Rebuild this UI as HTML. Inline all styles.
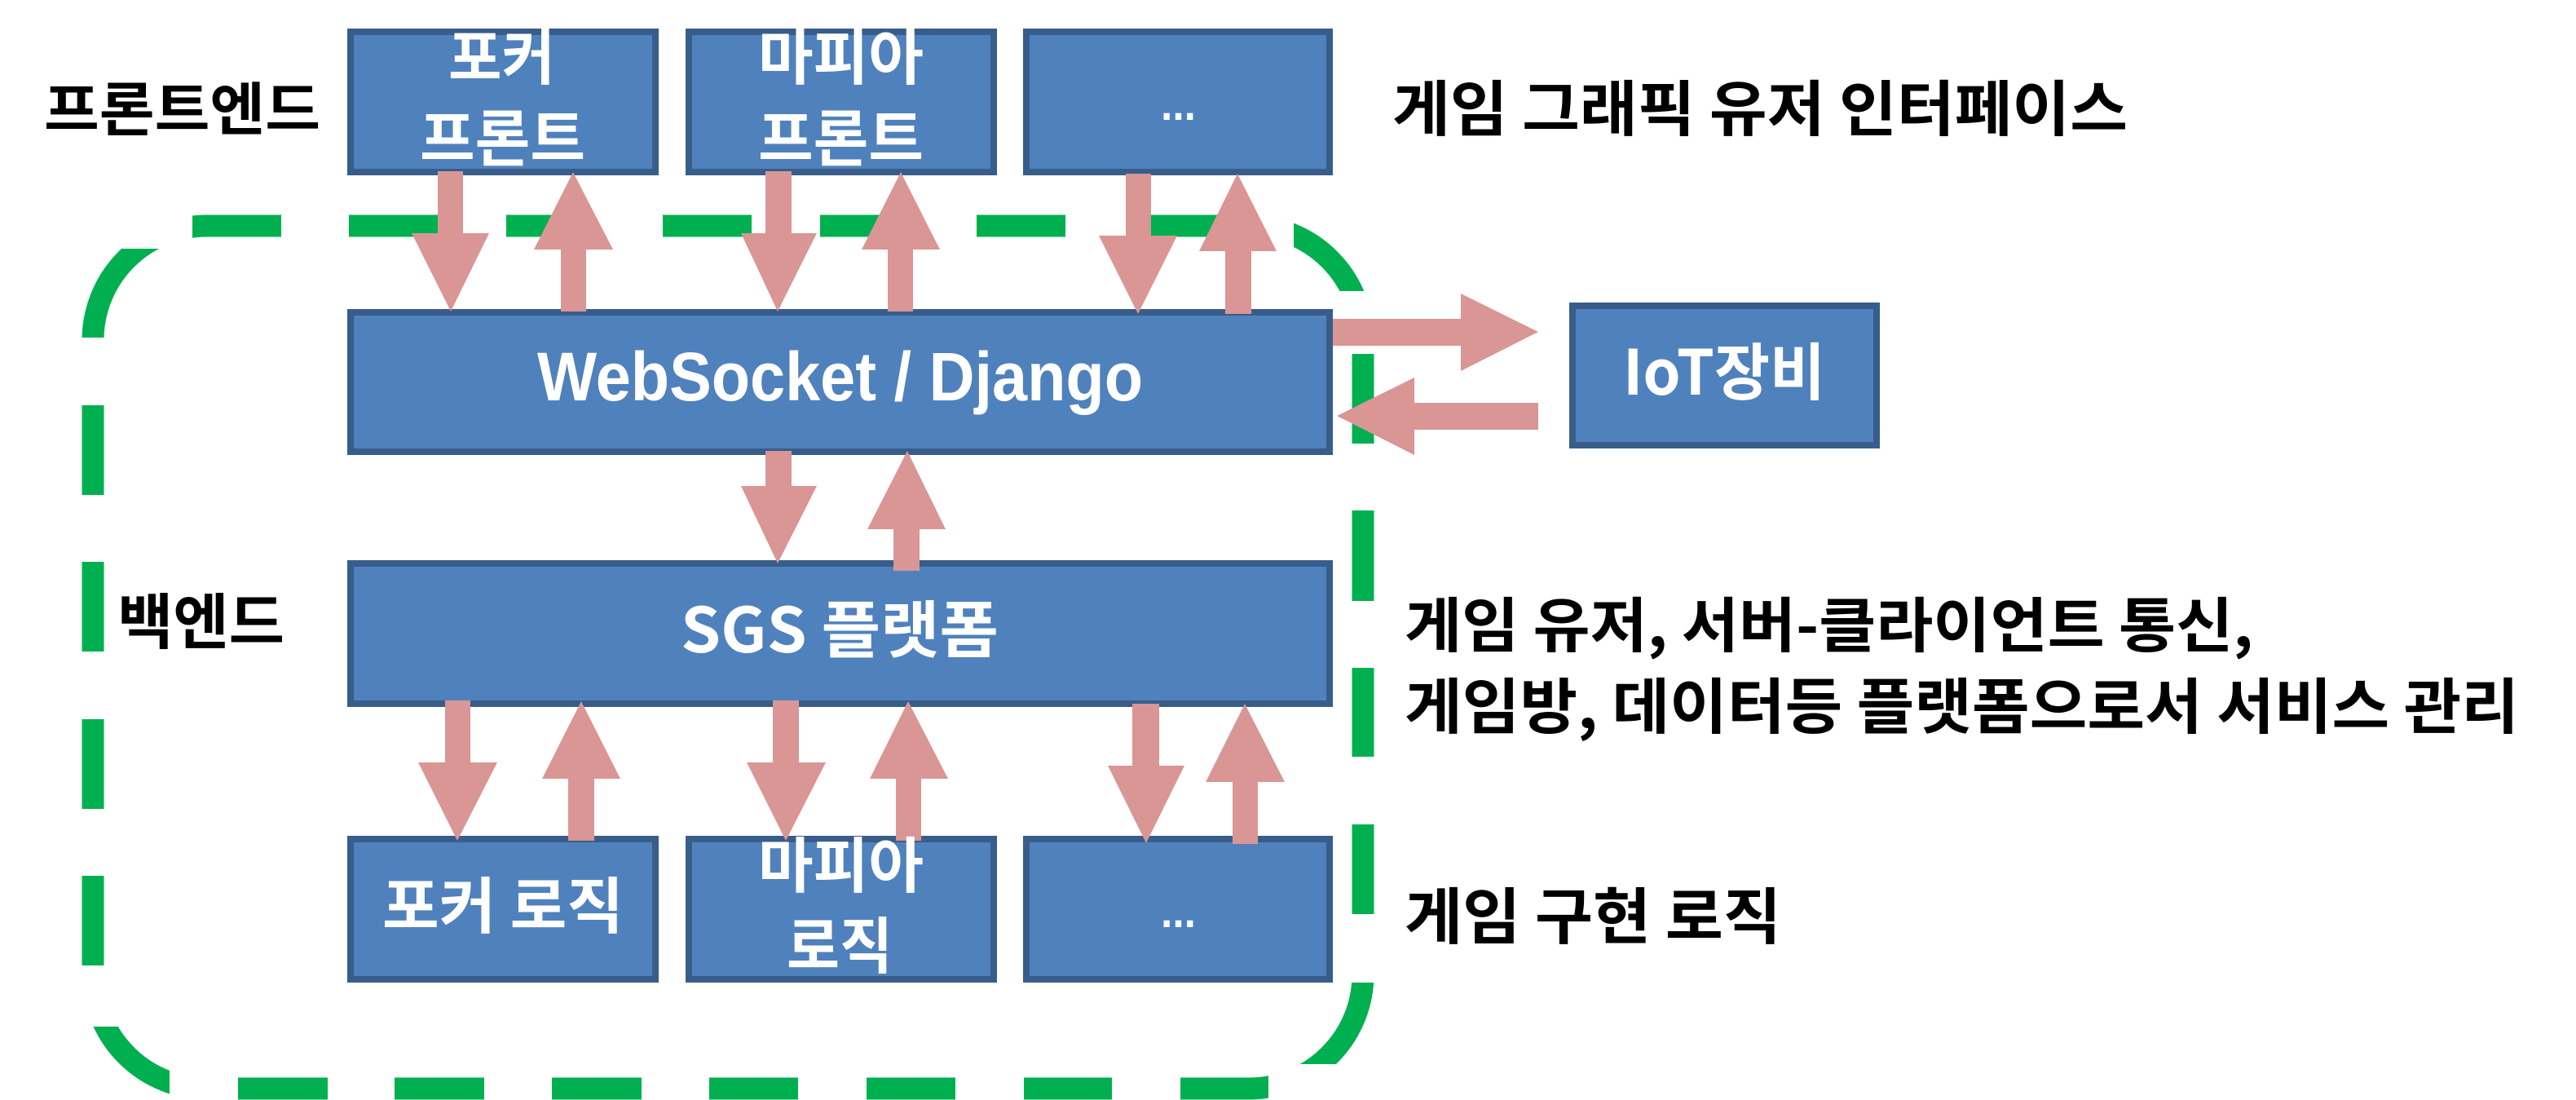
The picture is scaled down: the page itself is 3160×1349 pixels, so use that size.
<!DOCTYPE html>
<html><head><meta charset="utf-8"><style>
html,body{margin:0;padding:0;background:#fff;}
svg{display:block;}
text{font-family:"Liberation Sans","Noto Sans CJK KR",sans-serif;font-weight:bold;}
.k{font-family:"Noto Sans CJK KR","Liberation Sans",sans-serif;font-weight:bold;}
</style></head><body>
<svg width="3160" height="1349" viewBox="0 0 3160 1349" xmlns="http://www.w3.org/2000/svg">
<rect width="3160" height="1349" fill="#fff"/>
<!-- green dashed rounded rect -->
<rect x="114" y="277" width="1558" height="1058" rx="140" ry="140" fill="none" stroke="#00B050" stroke-width="27"/>
<g fill="#fff">
<!-- top gaps -->
<rect x="150" y="250" width="86" height="55"/>
<rect x="345" y="250" width="83" height="55"/>
<rect x="537" y="250" width="84" height="55"/>
<rect x="730" y="250" width="83" height="55"/>
<rect x="922" y="250" width="84" height="55"/>
<rect x="1115" y="250" width="83" height="55"/>
<rect x="1307" y="250" width="84" height="55"/>
<rect x="1497" y="250" width="90" height="55"/>
<!-- left gaps -->
<rect x="85" y="414" width="60" height="83"/>
<rect x="85" y="607" width="60" height="82"/>
<rect x="85" y="799" width="60" height="83"/>
<rect x="85" y="992" width="60" height="82"/>
<rect x="85" y="1184" width="60" height="75"/>
<!-- bottom gaps -->
<rect x="208" y="1305" width="84" height="50"/>
<rect x="402" y="1305" width="82" height="50"/>
<rect x="594" y="1305" width="83" height="50"/>
<rect x="787" y="1305" width="83" height="50"/>
<rect x="979" y="1305" width="84" height="50"/>
<rect x="1172" y="1305" width="84" height="50"/>
<rect x="1364" y="1305" width="84" height="50"/>
<rect x="1556" y="1305" width="85" height="50"/>
<!-- right gaps -->
<rect x="1640" y="357" width="60" height="77"/>
<rect x="1640" y="544" width="60" height="82"/>
<rect x="1640" y="737" width="60" height="82"/>
<rect x="1640" y="928" width="60" height="83"/>
<rect x="1640" y="1121" width="60" height="84"/>
</g>

<!-- boxes -->
<g fill="#4F81BD" stroke="#385D8A" stroke-width="8">
<rect x="430" y="39" width="374" height="172"/>
<rect x="845" y="39" width="374" height="172"/>
<rect x="1259" y="39" width="372" height="172"/>
<rect x="430" y="383" width="1201" height="171"/>
<rect x="430" y="691" width="1201" height="172"/>
<rect x="430" y="1029" width="374" height="172"/>
<rect x="845" y="1029" width="374" height="172"/>
<rect x="1259" y="1029" width="372" height="172"/>
<rect x="1929" y="375" width="373" height="171"/>
</g>

<!-- arrows -->
<g fill="#D99694">
<!-- top row -->
<polygon points="537,210 568,210 568,286 600,286 553,382 505,286 537,286"/>
<polygon points="703,211 752,306 719,306 719,382 688,382 688,306 655,306"/>
<polygon points="939,210 971,210 971,286 1002,286 954,382 909,286 939,286"/>
<polygon points="1105,211 1153,306 1120,306 1120,382 1089,382 1089,306 1057,306"/>
<polygon points="1381,213 1412,213 1412,289 1444,289 1396,385 1348,289 1381,289"/>
<polygon points="1518,213 1566,308 1535,308 1535,385 1503,385 1503,308 1471,308"/>
<!-- middle -->
<polygon points="939,553 971,553 971,596 1002,596 954,691 909,596 939,596"/>
<polygon points="1113,553 1160,649 1128,649 1128,700 1096,700 1096,649 1064,649"/>
<!-- bottom row -->
<polygon points="546,859 577,859 577,935 610,935 561,1031 513,935 546,935"/>
<polygon points="713,860 761,955 729,955 729,1031 697,1031 697,955 665,955"/>
<polygon points="948,859 980,859 980,935 1013,935 964,1031 916,935 948,935"/>
<polygon points="1114,860 1163,955 1130,955 1130,1031 1099,1031 1099,955 1067,955"/>
<polygon points="1389,863 1422,863 1422,939 1453,939 1406,1034 1359,939 1389,939"/>
<polygon points="1527,863 1576,959 1543,959 1543,1035 1512,1035 1512,959 1479,959"/>
<!-- IoT -->
<polygon points="1635,391 1792,391 1792,360 1887,407 1792,455 1792,424 1635,424"/>
<polygon points="1640,510 1735,463 1735,494 1887,494 1887,527 1735,527 1735,558"/>
</g>

<!-- box texts -->
<g fill="#fff" class="k">
<text class="k" x="550" y="97" font-size="74" textLength="131" lengthAdjust="spacingAndGlyphs">포커</text>
<text class="k" x="515" y="196" font-size="74" textLength="203" lengthAdjust="spacingAndGlyphs">프론트</text>
<text class="k" x="930" y="97" font-size="74" textLength="203" lengthAdjust="spacingAndGlyphs">마피아</text>
<text class="k" x="930" y="196" font-size="74" textLength="203" lengthAdjust="spacingAndGlyphs">프론트</text>
<text x="1424" y="147" font-size="56" textLength="43" lengthAdjust="spacingAndGlyphs">...</text>
<text x="659" y="491" font-size="84" textLength="743" lengthAdjust="spacingAndGlyphs">WebSocket / Django</text>
<text class="k" x="835" y="800" font-size="76" textLength="390" lengthAdjust="spacingAndGlyphs">SGS 플랫폼</text>
<text class="k" x="469" y="1138" font-size="75" textLength="296" lengthAdjust="spacingAndGlyphs">포커 로직</text>
<text class="k" x="930" y="1088" font-size="74" textLength="203" lengthAdjust="spacingAndGlyphs">마피아</text>
<text class="k" x="965" y="1187" font-size="75" textLength="130" lengthAdjust="spacingAndGlyphs">로직</text>
<text x="1424" y="1137" font-size="56" textLength="43" lengthAdjust="spacingAndGlyphs">...</text>
<text class="k" x="1991" y="484" font-size="76" textLength="248" lengthAdjust="spacingAndGlyphs">IoT장비</text>
</g>

<!-- side labels -->
<g fill="#000">
<text class="k" x="54" y="159" font-size="70" textLength="339" lengthAdjust="spacingAndGlyphs">프론트엔드</text>
<text class="k" x="144" y="789" font-size="74" textLength="205" lengthAdjust="spacingAndGlyphs">백엔드</text>
<text class="k" x="1708" y="160" font-size="74" textLength="902" lengthAdjust="spacingAndGlyphs">게임 그래픽 유저 인터페이스</text>
<text class="k" x="1723" y="793" font-size="73" textLength="1041" lengthAdjust="spacingAndGlyphs">게임 유저, 서버-클라이언트 통신,</text>
<text class="k" x="1723" y="893" font-size="74" textLength="1367" lengthAdjust="spacingAndGlyphs">게임방, 데이터등 플랫폼으로서 서비스 관리</text>
<text class="k" x="1723" y="1151" font-size="75" textLength="462" lengthAdjust="spacingAndGlyphs">게임 구현 로직</text>
</g>
</svg>
</body></html>
